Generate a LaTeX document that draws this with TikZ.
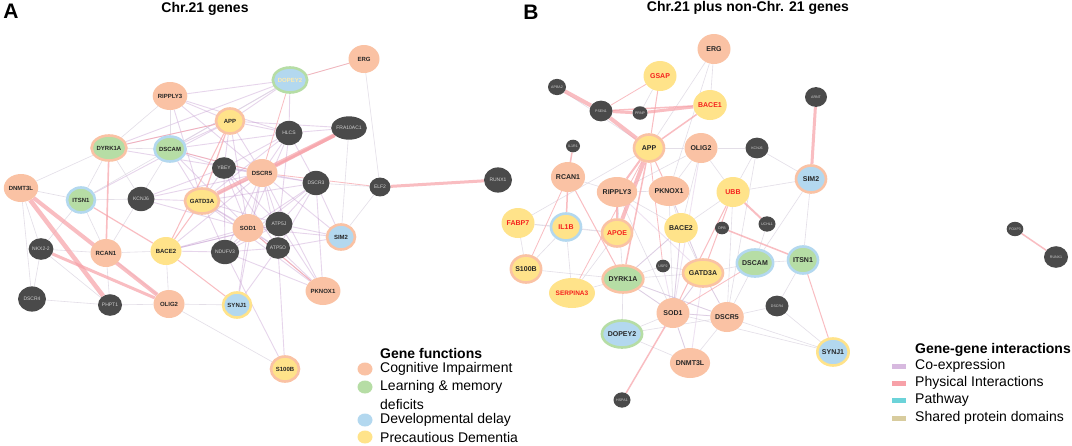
\documentclass[tikz,border=0pt]{standalone}
\usepackage{fontspec}
\setmainfont{Liberation Sans}
\usetikzlibrary{shapes.geometric,backgrounds}
\definecolor{corange}{HTML}{FAC2A4}
\definecolor{cgreen}{HTML}{B6DDA5}
\definecolor{cblue}{HTML}{B3D8EF}
\definecolor{cyellow}{HTML}{FFE38A}
\definecolor{cdark}{HTML}{4A4A4A}
\definecolor{txt}{HTML}{262626}
\definecolor{cred}{HTML}{F5201E}
\definecolor{coexc}{HTML}{C9A2D4}
\definecolor{physc}{HTML}{F7A1A8}
\definecolor{pathc}{HTML}{6CD3D9}
\definecolor{domc}{HTML}{D8CC9E}
\definecolor{faintc}{HTML}{DCD6E2}
\begin{document}
\def\rw{28}\def\rh{25}
\begin{tikzpicture}[x=1pt,y=-1pt,
  gA/.style={ellipse, minimum width=31, minimum height=28, inner sep=0pt, font=\fontsize{6}{6}\selectfont\bfseries, text=txt},
  gB/.style={ellipse, minimum width=33, minimum height=30, inner sep=0pt, font=\fontsize{7}{7}\selectfont\bfseries, text=txt},
  co/.style={fill=corange}, lm/.style={fill=cgreen}, dd/.style={fill=cblue}, pd/.style={fill=cyellow},
  rco/.style={draw=corange, line width=2.6, minimum width=\rw, minimum height=\rh},
  rlm/.style={draw=cgreen, line width=2.6, minimum width=\rw, minimum height=\rh},
  rdd/.style={draw=cblue, line width=2.6, minimum width=\rw, minimum height=\rh},
  rpd/.style={draw=cyellow, line width=2.6, minimum width=\rw, minimum height=\rh},
  rtx/.style={text=cred},
  dk/.style={ellipse, fill=cdark, inner sep=0pt, font=\fontsize{5}{5}\selectfont, text=white!82!black, minimum width=#1, minimum height=0.9*#1},
  dkb/.style={dk=#1, font=\fontsize{3.6}{3.6}\selectfont},
  coex/.style={draw=coexc, line width=0.9, opacity=0.45},
  faint/.style={draw=faintc, line width=0.6, opacity=0.8},
  phys/.style={draw=physc, line width=#1, opacity=0.7},
  phys/.default=0.8,
  ttl/.style={font=\fontsize{14}{14}\selectfont\bfseries},
  lab/.style={font=\fontsize{21}{21}\selectfont\bfseries},
  lgt/.style={anchor=west, inner sep=0pt, font=\fontsize{14}{14}\selectfont},
  lgc/.style={ellipse, minimum width=15, minimum height=13, inner sep=0pt},
  lgr/.style={minimum width=14, minimum height=5, inner sep=0pt}
]
\useasboundingbox (0,0) rectangle (1072,445);

% titles
\node[lab] (labA) at (11,11) {A};
\node[ttl] (titA) at (205,9) {Chr.21 genes};
\node[lab] (labB) at (531,12) {B};
\node[ttl] (titB) at (748,8) {Chr.21 plus non-Chr. 21 genes};

% ---------------- panel A nodes
\node[gA,co] (aRIP) at (170,96) {RIPPLY3};
\node[gA,pd,rco] (aAPP) at (230,121) {APP};
\node[gA,lm,rco] (aDYR) at (109,148) {DYRK1A};
\node[gA,lm,rdd] (aDSC) at (170,149) {DSCAM};
\node[dk=24] (aYBE) at (224,168) {YBEY};
\node[gA,co] (aDR5) at (262,173) {DSCR5};
\node[gA,co] (aDNM) at (21,188) {DNMT3L};
\node[gA,lm,rdd] (aITS) at (81,200) {ITSN1};
\node[dk=27] (aKCN) at (141,199) {KCNJ6};
\node[gA,pd,rco] (aGAT) at (202,201) {GATD3A};
\node[gA,dd,rlm,text=cyellow!70!white] (aDOP) at (290,80) {DOPEY2};
\node[gA,co] (aERG) at (364,59) {ERG};
\node[dk=27] (aHLC) at (289,133) {HLCS};
\node[dk=26] (aFRA) at (349,128) {FRA10AC1};
\node[dk=27] (aDR3) at (316,183) {DSCR3};
\node[dk=21] (aELF) at (380,187) {ELF2};
\node[dk=28] (aRUN) at (498,180) {RUNX1};
\node[gA,co] (aSOD) at (248,228) {SOD1};
\node[dk=27] (aATJ) at (279,224) {ATP5J};
\node[dk=24] (aATO) at (278,248) {ATP5O};
\node[gA,dd,rco] (aSIM) at (341,237) {SIM2};
\node[gA,co] (aPKN) at (323,291) {PKNOX1};
\node[gA,pd,rco] (aS10) at (285,369) {S100B};
\node[dk=27] (aNDU) at (225,252) {NDUFV3};
\node[gA,pd] (aBA2) at (166,251) {BACE2};
\node[gA,co] (aRCA) at (106,253) {RCAN1};
\node[dk=24] (aNKX) at (41,249) {NKX2-2};
\node[dk=28] (aDR4) at (32,299) {DSCR4};
\node[dk=24] (aPHP) at (110,305) {PHPT1};
\node[gA,co] (aOLI) at (169,304) {OLIG2};
\node[gA,dd,rpd] (aSYN) at (237,305) {SYNJ1};

% ---------------- panel B nodes
\def\rw{30}\def\rh{27}
\node[gB,co] (bERG) at (714,49) {ERG};
\node[gB,pd,rtx] (bGSA) at (660,76) {GSAP};
\node[dkb=18] (bAPB) at (557,87) {APBA2};
\node[dkb=23] (bPSE) at (601,111) {PSEN1};
\node[dkb=15] (bPRN) at (640,113) {PRNP};
\node[gB,pd,rtx] (bBA1) at (710,105) {BACE1};
\node[dkb=14] (bIL1R) at (573,146) {IL1R1};
\node[gB,pd,rco] (bAPP) at (649,148) {APP};
\node[gB,co] (bOLI) at (701,148) {OLIG2};
\node[dkb=23] (bKCN) at (757,148) {KCNJ6};
\node[gB,co] (bRCA) at (568,177) {RCAN1};
\node[gB,co] (bRIP) at (617,192) {RIPPLY3};
\node[gB,co] (bPKN) at (669,191) {PKNOX1};
\node[gB,pd,rtx] (bUBB) at (733,192) {UBB};
\node[dkb=22] (bARN) at (816,97) {ARNT};
\node[gB,dd,rco] (bSIM) at (811,179) {SIM2};
\node[gB,pd,rdd,rtx] (bIL1B) at (566,227) {IL1B};
\node[gB,pd,rco,rtx] (bAPO) at (617,233) {APOE};
\node[gB,pd] (bBA2) at (681,228) {BACE2};
\node[dkb=14] (bDPB) at (722,228) {DPB};
\node[dkb=17] (bUCH) at (767,224) {UCHL1};
\node[gB,pd,rtx] (bFAB) at (518,223) {FABP7};
\node[gB,pd,rco] (bS10) at (526,269) {S100B};
\node[dkb=14] (bUSP) at (663,266) {USP2};
\node[gB,pd,rco] (bGAT) at (703,273) {GATD3A};
\node[gB,lm,rdd] (bDSC) at (755,263) {DSCAM};
\node[gB,lm,rdd] (bITS) at (803,260) {ITSN1};
\node[gB,lm,rco] (bDYR) at (623,279) {DYRK1A};
\node[gB,pd,rtx,font=\fontsize{6.5}{6.5}\selectfont\bfseries] (bSER) at (572,293) {SERPINA3};
\node[gB,co] (bSOD) at (673,313) {SOD1};
\node[gB,co] (bDR5) at (727,317) {DSCR5};
\node[dkb=23] (bDR4) at (777,306) {DSCR4};
\node[gB,dd,rlm] (bDOP) at (622,334) {DOPEY2};
\node[gB,co] (bDNM) at (690,363) {DNMT3L};
\node[gB,dd,rpd] (bSYN) at (833,352) {SYNJ1};
\node[dkb=17] (bHSP) at (622,400) {HSPA1};
\node[dkb=16] (bFOX) at (1015,229) {FOXP3};
\node[dkb=24] (bRUN) at (1056,257) {RUNX1};

% ---------------- legends
\node[lgt,font=\fontsize{14}{14}\selectfont\bfseries] (lgA) at (380,353) {Gene functions};
\node[lgc,fill=corange] (lcA1) at (365,369) {};
\node[lgt] (ltA1) at (380,369) {Cognitive Impairment};
\node[lgc,fill=cgreen] (lcA2) at (365,387) {};
\node[lgt] (ltA2) at (380,387) {Learning \& memory};
\node[lgt] (ltA2b) at (380,404) {deficits};
\node[lgc,fill=cblue] (lcA3) at (365,420) {};
\node[lgt] (ltA3) at (380,420) {Developmental delay};
\node[lgc,fill=cyellow] (lcA4) at (365,437) {};
\node[lgt] (ltA4) at (380,437) {Precautious Dementia};

\node[lgt,font=\fontsize{14}{14}\selectfont\bfseries] (lgB) at (915,350) {Gene-gene interactions};
\node[lgr,fill=coexc!75!white] (lrB1) at (899,366) {};
\node[lgt] (ltB1) at (915,366) {Co-expression};
\node[lgr,fill=physc] (lrB2) at (899,383) {};
\node[lgt] (ltB2) at (915,383) {Physical Interactions};
\node[lgr,fill=pathc] (lrB3) at (899,400) {};
\node[lgt] (ltB3) at (915,400) {Pathway};
\node[lgr,fill=domc] (lrB4) at (899,418) {};
\node[lgt] (ltB4) at (915,418) {Shared protein domains};

% ---------------- edges
\begin{pgfonlayer}{background}
\fill[white] (0,0) rectangle (1072,445);
% panel A co-expression
\foreach \u/\v in {aDR5/aSOD,aDR5/aATJ,aDR5/aATO,aDR5/aDR3,aDR5/aGAT,aDR5/aNDU,aDR5/aYBE,aDR5/aHLC,aDR5/aAPP,aDR5/aBA2,aDR5/aPKN,aDR5/aSIM,aDR5/aSYN,aDR5/aKCN,aDR5/aDSC,aDR5/aRIP,aDR5/aDYR,
  aSOD/aATJ,aSOD/aATO,aSOD/aDR3,aSOD/aGAT,aSOD/aNDU,aSOD/aYBE,aSOD/aHLC,aSOD/aAPP,aSOD/aBA2,aSOD/aPKN,aSOD/aSIM,aSOD/aSYN,aSOD/aKCN,aSOD/aDSC,
  aATJ/aATO,aATJ/aDR3,aATJ/aGAT,aATJ/aNDU,aATJ/aYBE,aATJ/aHLC,aATJ/aPKN,aATJ/aSIM,aATJ/aBA2,
  aGAT/aDR3,aGAT/aNDU,aGAT/aYBE,aGAT/aHLC,aGAT/aATO,aGAT/aPKN,aGAT/aDSC,aGAT/aRIP,
  aDR3/aHLC,aDR3/aYBE,aDR3/aNDU,aDR3/aATO,aDR3/aPKN,aDR3/aSIM,
  aHLC/aAPP,aHLC/aYBE,aHLC/aDOP,aHLC/aRIP,aHLC/aDSC,aHLC/aFRA,
  aAPP/aRIP,aAPP/aDYR,aAPP/aDSC,aAPP/aDOP,aAPP/aYBE,aAPP/aITS,aAPP/aFRA,
  aDOP/aDYR,aDOP/aDSC,aDOP/aRIP,aYBE/aNDU,aYBE/aATO,aNDU/aATO,aNDU/aPKN,aATO/aPKN,aATO/aSIM,aATO/aSYN,
  aKCN/aGAT,aKCN/aYBE,aDSC/aYBE,aBA2/aNDU,aBA2/aATJ,aNDU/aS10,aATO/aS10}
  \draw[coex] (\u) -- (\v);
% panel A faint
\foreach \u/\v in {aDNM/aITS,aDNM/aDYR,aDNM/aNKX,aDNM/aDR4,aNKX/aDR4,aDR4/aPHP,aPHP/aOLI,aNKX/aRCA,aRCA/aBA2,aRCA/aOLI,aBA2/aOLI,aOLI/aS10,aITS/aKCN,aDYR/aDSC,aITS/aNKX,aPHP/aRCA,aDYR/aITS,aRIP/aDYR,aRIP/aDSC,aDOP/aERG,aERG/aELF,aDR3/aELF,aELF/aSIM,aDOP/aITS,aDYR/aKCN,aITS/aRCA,aOLI/aSYN,aFRA/aSIM,aDSC/aRCA,aNKX/aPHP}
  \draw[faint] (\u) -- (\v);
% panel A physical
\draw[phys=4.5] (aDNM) -- (aPHP);
\draw[phys=4] (aDNM) -- (aOLI);
\draw[phys=3] (aNKX) -- (aOLI);
\draw[phys=4] (aGAT) -- (aFRA);
\draw[phys=3] (aDR5) -- (aFRA);
\draw[phys=3] (aELF) -- (aRUN);
\draw[phys=1.6] (aDYR) -- (aRCA);
\draw[phys=1.2] (aITS) -- (aBA2);
\draw[phys=1.2] (aAPP) -- (aGAT);
\draw[phys=1] (aAPP) -- (aBA2);
\draw[phys=1] (aBA2) -- (aSYN);
\draw[phys=1] (aBA2) -- (aGAT);
\draw[phys=1] (aSOD) -- (aPKN);
\draw[phys=0.8] (aDOP) -- (aERG);
\draw[phys=0.8] (aDR5) -- (aELF);
\draw[phys=0.8] (aDSC) -- (aDR5);
\draw[phys=0.8] (aDYR) -- (aAPP);
\draw[phys=0.8] (aDOP) -- (aDR5);
% panel B faint / co-expression
\foreach \u/\v in {bERG/bAPP,bERG/bPKN,bOLI/bBA2,bOLI/bPKN,bOLI/bRIP,bOLI/bKCN,bKCN/bSIM,bKCN/bUBB,bSIM/bUBB,bSIM/bDSC,bRIP/bDYR,bRIP/bSOD,bPKN/bBA2,bPKN/bSOD,bPKN/bGAT,bBA2/bGAT,bBA2/bDYR,bBA2/bSOD,bGAT/bSOD,bGAT/bDR5,bGAT/bDSC,bSOD/bDR5,bSOD/bDYR,bSOD/bDNM,bDR5/bDNM,bDR5/bDSC,bDR5/bDR4,bDR4/bITS,bDR4/bSYN,bDYR/bDOP,bDYR/bSER,bDOP/bSOD,bDOP/bDNM,bSER/bIL1B,bSER/bAPO,bFAB/bS10,bFAB/bIL1B,bFAB/bAPO,bS10/bIL1B,bIL1B/bAPO,bUSP/bGAT,bUSP/bDYR,bDSC/bITS,bUCH/bDSC,bUBB/bBA2,bUBB/bDR5,bSIM/bITS,bSYN/bDR5,bSYN/bSOD,bFAB/bAPP,bOLI/bAPP,bOLI/bUBB,bPKN/bRIP,bDYR/bGAT,bDYR/bDR5,bDOP/bDR5,bRCA/bRIP,bRIP/bBA2,bKCN/bDR5,bAPB/bAPP,bGSA/bPRN,bERG/bBA1,bS10/bDYR}
  \draw[faint] (\u) -- (\v);
\foreach \u/\v in {bSOD/bDR5,bGAT/bDR5,bSOD/bGAT,bDYR/bSOD,bBA2/bDYR,bBA2/bSOD,bPKN/bGAT,bOLI/bSOD,bRIP/bGAT,bDYR/bDR5,bUSP/bSOD,bSOD/bDNM,bGAT/bDNM}
  \draw[coex,opacity=0.3] (\u) -- (\v);
% panel B physical
\draw[phys=4] (bAPB) -- (bPSE);
\draw[phys=4] (bPSE) -- (bAPP);
\draw[phys=3] (bPSE) -- (bPRN);
\draw[phys=3] (bPRN) -- (bBA1);
\draw[phys=1.5] (bPSE) -- (bBA1);
\draw[phys=4] (bAPP) -- (bAPO);
\draw[phys=2] (bAPP) -- (bRIP);
\draw[phys=1.5] (bAPP) -- (bDYR);
\draw[phys=3] (bARN) -- (bSIM);
\draw[phys=2] (bUBB) -- (bUCH);
\draw[phys=1.5] (bDPB) -- (bITS);
\draw[phys=1.5] (bSOD) -- (bHSP);
\draw[phys=1.5] (bFOX) -- (bRUN);
\draw[phys=1] (bITS) -- (bSYN);
\draw[phys=1.5] (bRCA) -- (bIL1R);
\draw[phys=1.5] (bRCA) -- (bIL1B);
\draw[phys=1] (bGSA) -- (bAPP);
\draw[phys=1.5] (bBA1) -- (bAPP);
\draw[phys=1] (bUBB) -- (bGAT);
\draw[phys=1] (bUBB) -- (bSOD);
\draw[phys=1.5] (bAPO) -- (bRIP);
\draw[phys=1] (bAPP) -- (bPKN);
\draw[phys=0.8] (bGSA) -- (bPSE);
\draw[phys=1] (bDYR) -- (bRCA);
\draw[phys=0.8] (bDSC) -- (bSOD);
\draw[phys=0.8] (bAPP) -- (bSER);
\draw[phys=0.8] (bAPP) -- (bUSP);
\draw[phys=0.8] (bRCA) -- (bS10);
\end{pgfonlayer}
\end{tikzpicture}
\end{document}
